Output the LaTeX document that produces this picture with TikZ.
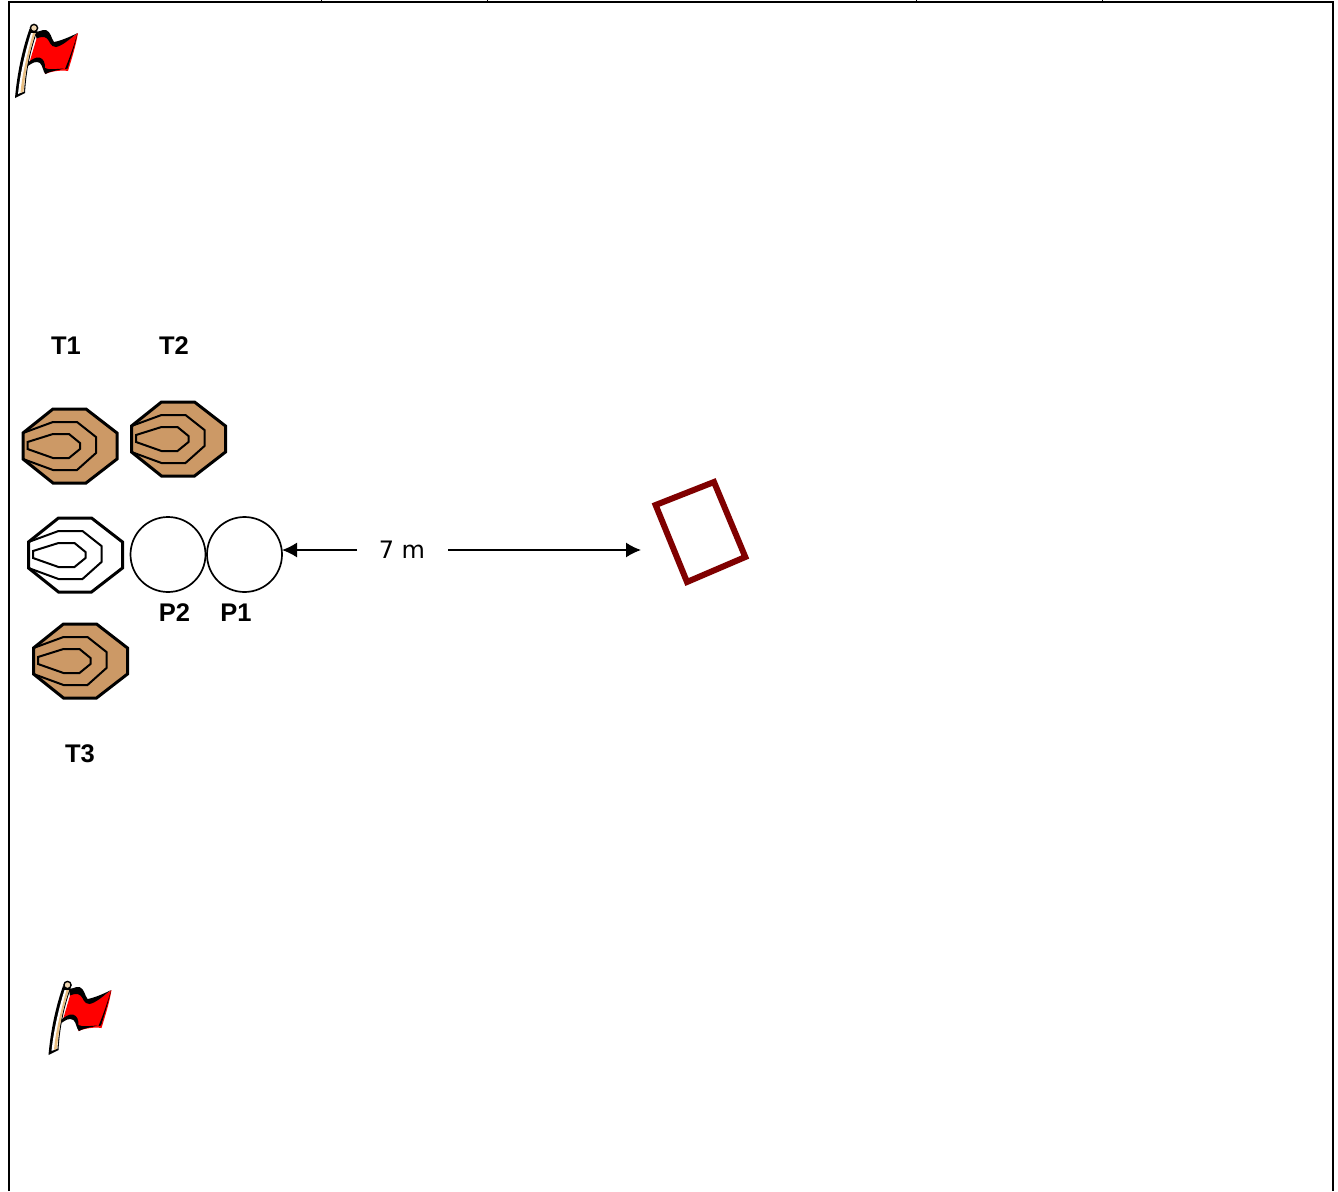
\documentclass[tikz,border=0pt]{standalone}
\usepackage{fontspec}
\setmainfont{DejaVu Sans}
\newfontfamily\labelfont{Liberation Sans}
\usetikzlibrary{arrows.meta}
\definecolor{wood}{RGB}{204,153,102}
\definecolor{maroonbox}{RGB}{128,0,0}
\definecolor{poletan}{RGB}{232,190,130}
\tikzset{
  x=1pt,y=-1pt,
  label text/.style={font=\labelfont\bfseries\fontsize{25.5}{25.5}\selectfont,inner sep=0pt},
  dist text/.style={font=\fontsize{24}{24}\selectfont,inner sep=0pt},
  dist arrow/.style={draw=black,line width=1.5pt,-{Latex[length=15pt,width=15pt,sharp]}},
  peg/.style={circle,draw=black,line width=1.7pt,fill=white,minimum size=75pt,inner sep=0pt},
  pics/stump/.style={code={
    \draw[fill=#1,line width=3pt,line join=miter] (30,0)--(63,0)--(94,24)--(94,50)--(63,74)--(30,74)--(0,50)--(0,24)--cycle;
    \draw[line width=2pt] (0,24)--(30,13)--(54,13)--(73,28)--(73,44)--(54,61)--(30,61)--(0,50);
    \draw[line width=2pt] (4.5,33)--(30,25)--(46,25)--(57,34)--(57,40)--(46,49)--(30,49)--(4.5,40)--cycle;
  }},
  pics/flag/.style={code={
    % red cloth
    \fill[red] (37,37) .. controls (41,36) and (47,36) .. (49,39) .. controls (51,44) and (54,47) .. (59,45) .. controls (65,43) and (71,38) .. (78,33) .. controls (76,45) and (72,58) .. (68,71) .. controls (62,70) and (52,71) .. (45,74) .. controls (44,68) and (44,63) .. (40,61) .. controls (37,59) and (33,61) .. (29,64) -- cycle;
    % upper black band
    \fill[black] (35,31) .. controls (39,33) and (42,29) .. (46,30) .. controls (51,32) and (51,38) .. (54,42) .. controls (60,41) and (70,37) .. (77.5,33) .. controls (70,39) and (62,46) .. (56,47) .. controls (50,47) and (50,41) .. (47,38.5) .. controls (44,36) and (40,37) .. (36.5,38.5) -- cycle;
    % lower black band
    \fill[black] (27.5,63) .. controls (31,60) and (35,57) .. (39.5,57.5) .. controls (44,59) and (45,63) .. (45,68) .. controls (48,70) and (56,69) .. (64,68.5) .. controls (58,70.5) and (50,71) .. (45.5,74) .. controls (43,72) and (43,66) .. (40,63) .. controls (36,60.5) and (32,63) .. (28,66) -- cycle;
    % right edge
    \fill[black] (77.5,33.5) .. controls (74,45) and (70,57) .. (65,69) -- (67.5,68.5) .. controls (71,57) and (75,45) .. (77.5,33.5) -- cycle;
    % pole
    \fill[black] (29.5,29) .. controls (22,50) and (17,75) .. (15,98) -- (25,93) .. controls (26,75) and (29,55) .. (37,32) -- cycle;
    \fill[white] (31,33) .. controls (25,52) and (20,75) .. (18,94) -- (24,91.5) .. controls (25,75) and (28,55) .. (35.5,33) -- cycle;
    \fill[poletan] (33,33) .. controls (27,55) and (22,75) .. (20.5,93) -- (23.5,91.5) .. controls (25,75) and (28,55) .. (35.5,33) -- cycle;
    \draw[black,line width=1.4pt,fill=poletan!60!white] (34,28) circle (3.6);
  }}
}
\begin{document}
\begin{tikzpicture}
\useasboundingbox (0,0) rectangle (1338,1191);
\fill[white] (0,0) rectangle (1338,1191);
% frame
\draw[line width=2pt] (8.5,1191) -- (8.5,2) -- (1333,2) -- (1333,1191);
\foreach \tx in {321,487,916,1102} \draw[line width=1pt] (\tx,0) -- (\tx,2);
% flags
\pic at (0,0) {flag};
\pic at (33.5,957) {flag};
% stumps
\pic at (23,409) {stump=wood};
\pic at (131.5,402) {stump=wood};
\pic at (28.5,518) {stump=white};
\pic at (33.5,624) {stump=wood};
% pegs
\node[peg] (p2) at (168,554.5) {};
\node[peg] (p1) at (244.5,554.5) {};
% labels
\node[label text] (t1) at (66,346) {T1};
\node[label text] (t2) at (174,346) {T2};
\node[label text] (t3) at (80,754) {T3};
\node[label text] (lp2) at (174.5,613) {P2};
\node[label text] (lp1) at (236,613) {P1};
% distance
\node[dist text] (dist) at (402,549.5) {7 m};
\coordinate (la) at (357,550);
\coordinate (lb) at (282,550);
\coordinate (ra) at (448,550);
\coordinate (rb) at (641,550);
\draw[dist arrow] (la) -- (lb);
\draw[dist arrow] (ra) -- (rb);
% target
\draw[draw=maroonbox,line width=6pt,line join=miter] (714,482)--(745.3,557)--(687,582)--(655.6,505)--cycle;
\end{tikzpicture}
\end{document}
